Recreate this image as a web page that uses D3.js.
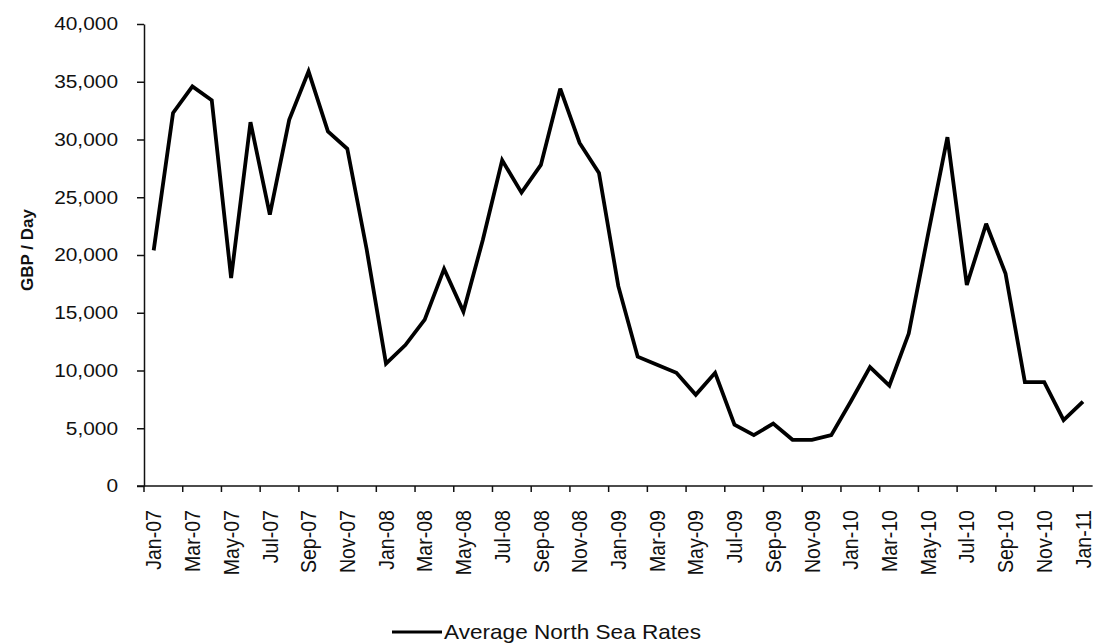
<!DOCTYPE html>
<html><head><meta charset="utf-8">
<script src="https://cdn.jsdelivr.net/npm/d3@7/dist/d3.min.js"></script>
<style>body{margin:0;background:#fff;} svg{display:block;}</style>
</head><body>
<svg id="chart" width="1094" height="643"></svg>
<script>
const categories = [
  "Jan-07","Feb-07","Mar-07","Apr-07","May-07","Jun-07","Jul-07","Aug-07","Sep-07","Oct-07","Nov-07","Dec-07",
  "Jan-08","Feb-08","Mar-08","Apr-08","May-08","Jun-08","Jul-08","Aug-08","Sep-08","Oct-08","Nov-08","Dec-08",
  "Jan-09","Feb-09","Mar-09","Apr-09","May-09","Jun-09","Jul-09","Aug-09","Sep-09","Oct-09","Nov-09","Dec-09",
  "Jan-10","Feb-10","Mar-10","Apr-10","May-10","Jun-10","Jul-10","Aug-10","Sep-10","Oct-10","Nov-10","Dec-10",
  "Jan-11"
];
const rates = [
  20400, 32300, 34600, 33400, 18000, 31500, 23500, 31700, 35900, 30700, 29200, 20500,
  10600, 12200, 14400, 18800, 15100, 21300, 28200, 25400, 27800, 34400, 29700, 27100,
  17300, 11200, 10500, 9800, 7900, 9800, 5300, 4400, 5400, 4000, 4000, 4400,
  7300, 10300, 8700, 13200, 21800, 30200, 17400, 22700, 18400, 9000, 9000, 5700,
  7300
];
const yTicks = [0, 5000, 10000, 15000, 20000, 25000, 30000, 35000, 40000];
const xTickLabels = categories.filter((d, i) => i % 2 === 0);
const seriesName = "Average North Sea Rates";
const yTitle = "GBP / Day";

const svg = d3.select("#chart");
const mLeft = 144, mTop = 24, mBottom = 486, monthW = 19.36;
const font = "'Liberation Sans', Arial, sans-serif";

const x = d3.scaleBand().domain(categories).range([mLeft, mLeft + categories.length * monthW]);
const y = d3.scaleLinear().domain([0, 40000]).range([mBottom, mTop]);

// Y axis
const yAxis = d3.axisLeft(y).tickValues(yTicks)
  .tickFormat(d => d === 0 ? "0" : d3.format(",")(d))
  .tickSize(7).tickSizeOuter(0).tickPadding(19);
const gy = svg.append("g").attr("transform", `translate(${mLeft},0)`).call(yAxis);
gy.select(".domain").attr("stroke", "#111").attr("stroke-width", 1.5);
gy.selectAll(".tick line").attr("stroke", "#111").attr("stroke-width", 1.5);
gy.selectAll(".tick text").attr("font-family", font).attr("font-size", 18)
  .attr("fill", "#111")
  .attr("transform", "scale(1.16,1)")
  .attr("x", -26 / 1.16);

// X axis labels (at category centres)
const xAxis = d3.axisBottom(x).tickValues(xTickLabels).tickSize(0).tickSizeOuter(0);
const gx = svg.append("g").attr("transform", `translate(0,${mBottom})`).call(xAxis);
gx.select(".domain").remove();
gx.selectAll(".tick text")
  .attr("font-family", font).attr("font-size", 19).attr("fill", "#111")
  .attr("transform", "rotate(-90) scale(1.03,1.12)")
  .attr("text-anchor", "end")
  .attr("x", -24 / 1.03).attr("y", 0).attr("dy", "0.36em");

// X axis line and tick marks (between categories)
svg.append("line")
  .attr("x1", mLeft - 7).attr("x2", x.range()[1])
  .attr("y1", mBottom).attr("y2", mBottom)
  .attr("stroke", "#111").attr("stroke-width", 1.5);
svg.append("g").selectAll("line").data(xTickLabels).join("line")
  .attr("x1", d => x(d)).attr("x2", d => x(d))
  .attr("y1", mBottom).attr("y2", mBottom + 6)
  .attr("stroke", "#111").attr("stroke-width", 1.5);

// Y axis title
svg.append("text")
  .attr("transform", `translate(33,250) rotate(-90)`)
  .attr("text-anchor", "middle")
  .attr("font-family", font).attr("font-size", 17).attr("font-weight", "bold")
  .attr("fill", "#111")
  .text(yTitle);

// Line
const line = d3.line()
  .x((d, i) => x(categories[i]) + x.bandwidth() / 2)
  .y(d => y(d));
svg.append("path").datum(rates)
  .attr("d", line)
  .attr("fill", "none").attr("stroke", "#000").attr("stroke-width", 3.8)
  .attr("stroke-linejoin", "miter").attr("stroke-miterlimit", 3);

// Legend
const lg = svg.append("g").attr("transform", "translate(392,632)");
lg.append("line").attr("x1", 0).attr("x2", 50).attr("y1", 0).attr("y2", 0)
  .attr("stroke", "#000").attr("stroke-width", 3);
lg.append("text").attr("x", 52 / 1.13).attr("y", 0).attr("dy", "0.36em")
  .attr("transform", "scale(1.13,1)")
  .attr("font-family", font).attr("font-size", 20).attr("fill", "#111")
  .text(seriesName);
</script>
</body></html>
